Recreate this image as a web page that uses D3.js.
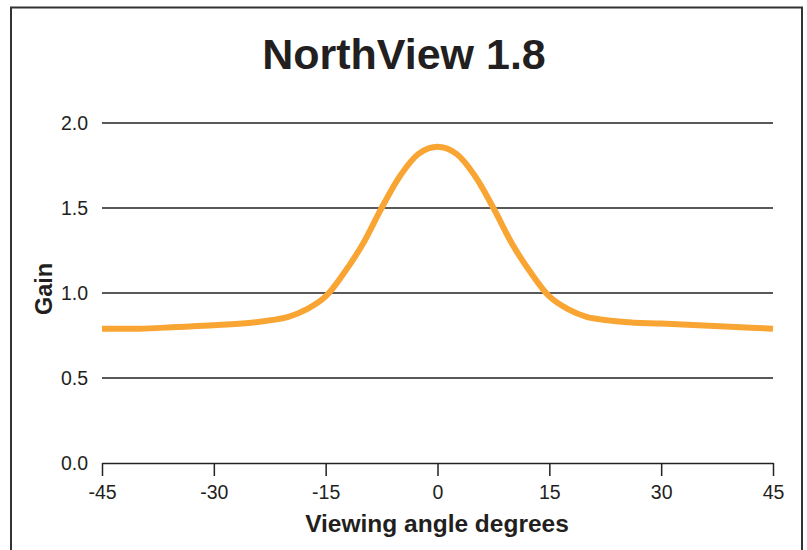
<!DOCTYPE html>
<html>
<head>
<meta charset="utf-8">
<script src="https://cdn.jsdelivr.net/npm/d3@7/dist/d3.min.js"></script>
<style>
  html, body { margin: 0; padding: 0; background: #fff; }
  svg { display: block; font-family: "Liberation Sans", Arial, Helvetica, sans-serif; }
</style>
</head>
<body>
<svg id="chart" width="807" height="550"></svg>
<script>
const title = "NorthView 1.8";
const xLabel = "Viewing angle degrees";
const yLabel = "Gain";
const angles = [-45, -40, -35, -30, -25, -20, -17.5, -15, -12.5, -10, -7.5, -5, -2.5, 0, 2.5, 5, 7.5, 10, 12.5, 15, 17.5, 20, 25, 30, 35, 40, 45];
const gains  = [0.79, 0.79, 0.80, 0.81, 0.825, 0.86, 0.905, 0.98, 1.12, 1.29, 1.50, 1.69, 1.82, 1.86, 1.82, 1.69, 1.50, 1.29, 1.12, 0.98, 0.905, 0.86, 0.83, 0.82, 0.81, 0.80, 0.79];
const xTicks = [-45, -30, -15, 0, 15, 30, 45];
const yTicks = [0.0, 0.5, 1.0, 1.5, 2.0];

(function () {
const svg = d3.select("#chart");
const W = 807, H = 550;
const pLeft = 102, pRight = 773, pTop = 123, pBottom = 463;

const x = d3.scaleLinear().domain([-45, 45]).range([pLeft, pRight]);
const y = d3.scaleLinear().domain([0, 2]).range([pBottom, pTop]);

const ink = "#231f20";

// frame
svg.append("path")
  .attr("d", `M11,${H + 5} L11,7.5 L802,7.5 L802,${H + 5}`)
  .attr("fill", "none").attr("stroke", "#333").attr("stroke-width", 2);

// title
svg.append("text").attr("x", 404).attr("y", 69)
  .attr("text-anchor", "middle").attr("font-weight", "bold")
  .attr("font-size", 43).attr("fill", ink).text(title);

// gridlines
svg.append("g").selectAll("line").data(yTicks.filter(d => d > 0)).join("line")
  .attr("x1", pLeft).attr("x2", pRight)
  .attr("y1", d => y(d)).attr("y2", d => y(d))
  .attr("stroke", "#222").attr("stroke-width", 1.5);

// y axis labels
svg.append("g").selectAll("text").data(yTicks).join("text")
  .attr("x", 88).attr("y", d => y(d) + 7)
  .attr("text-anchor", "end").attr("font-size", 19.5).attr("fill", ink)
  .text(d => d.toFixed(1));

// x axis
const xAxis = d3.axisBottom(x).tickValues(xTicks).tickSize(13).tickSizeOuter(0).tickPadding(9)
  .tickFormat(d => String(d));
const gx = svg.append("g").attr("transform", `translate(0,${pBottom})`).call(xAxis);
gx.select(".domain").attr("stroke", "#222").attr("stroke-width", 1.5);
gx.selectAll(".tick line").attr("stroke", "#222").attr("stroke-width", 1.5);
gx.selectAll(".tick text").attr("font-size", 19.5).attr("fill", ink)
  .attr("font-family", "Liberation Sans, Arial, sans-serif");

// axis titles
svg.append("text").attr("x", 437).attr("y", 532)
  .attr("text-anchor", "middle").attr("font-weight", "bold")
  .attr("font-size", 24.5).attr("fill", ink).text(xLabel);

svg.append("text").attr("transform", `translate(52,289) rotate(-90)`)
  .attr("text-anchor", "middle").attr("font-weight", "bold")
  .attr("font-size", 23.5).attr("fill", ink).text(yLabel);

// curve
const line = d3.line().x((d, i) => x(angles[i])).y(d => y(d)).curve(d3.curveCatmullRom.alpha(0.5));
svg.append("path").datum(gains)
  .attr("d", line)
  .attr("fill", "none").attr("stroke", "#f9a533").attr("stroke-width", 6)
  .attr("stroke-linejoin", "round");
})();
</script>
</body>
</html>
